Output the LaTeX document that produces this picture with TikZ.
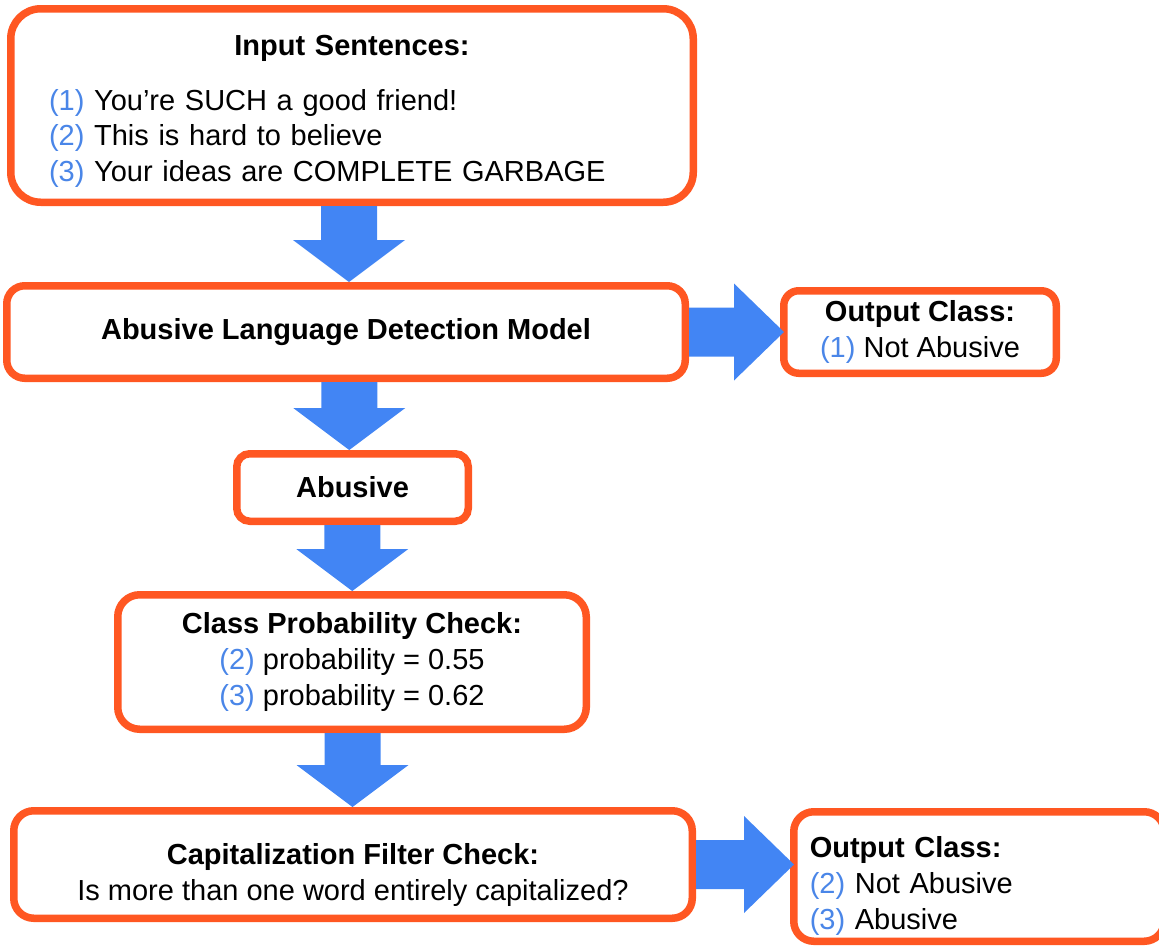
\documentclass[tikz,border=0pt]{standalone}
\usepackage{fontspec}
\setmainfont{Liberation Sans}
\usepackage{tikz}
\usetikzlibrary{calc}

\definecolor{boxorange}{HTML}{FF5722}
\definecolor{arrowblue}{HTML}{4285F4}
\definecolor{numblue}{HTML}{4A86E8}

\newcommand{\itemnum}[1]{\textcolor{numblue}{(#1)}}

% fat block arrows between two boxes
\newcommand{\downblock}[2]{%
    \coordinate (mid) at ($(#1.south)!0.5!(#2.north)$);
    \fill[arrowblue] ($(mid |- #1.south)+(-28,0)$) -- ($(mid |- #2.north)+(-28,-42)$)
        -- ($(mid |- #2.north)+(-56,-42)$) -- (mid |- #2.north)
        -- ($(mid |- #2.north)+(56,-42)$) -- ($(mid |- #2.north)+(28,-42)$)
        -- ($(mid |- #1.south)+(28,0)$) -- cycle;}
\newcommand{\rightblock}[2]{%
    \fill[arrowblue] ($(#1.east)+(0,-24.5)$) -- ($(#2.west |- #1.east)+(-46,-24.5)$)
        -- ($(#2.west |- #1.east)+(-46,-48.5)$) -- ($(#2.west |- #1.east)+(4,0)$)
        -- ($(#2.west |- #1.east)+(-46,48.5)$) -- ($(#2.west |- #1.east)+(-46,24.5)$)
        -- ($(#1.east)+(0,24.5)$) -- cycle;}

\begin{document}
\begin{tikzpicture}[x=1pt, y=-1pt,
    roundbox/.style={draw=boxorange, line width=7.5pt, rounded corners=#1, fill=white,
        inner sep=0pt, align=center, font=\fontsize{29}{36}\selectfont},
    roundbox/.default=18pt]
    \useasboundingbox (0,0) rectangle (1159,946);

    \node[roundbox=30pt, minimum width=682.5pt, minimum height=193.5pt, text width=606pt,
        align=left, font=\fontsize{29}{35.5}\selectfont] (input) at (352,105.5)
        {\makebox[\hsize]{\rule{0pt}{32pt}\bfseries Input Sentences:}\\[19pt]
         \itemnum{1} You're SUCH a good friend!\\
         \itemnum{2} This is hard to believe\\
         \itemnum{3} Your ideas are COMPLETE GARBAGE};
    \node[roundbox, minimum width=678.5pt, minimum height=92.5pt] (model) at (346,332)
        {\bfseries Abusive Language Detection Model};
    \node[roundbox=15pt, minimum width=272.5pt, minimum height=82.5pt] (outone) at (920,332)
        {\textbf{Output Class:}\\ \itemnum{1} Not Abusive};
    \node[roundbox=13pt, minimum width=231.5pt, minimum height=67.5pt] (abusive) at (352.5,487.5)
        {\bfseries Abusive};
    \node[roundbox=22pt, minimum width=468.5pt, minimum height=134.5pt] (probcheck) at (352,662)
        {\textbf{Class Probability Check:}\\ \itemnum{2} probability = 0.55\\ \itemnum{3} probability = 0.62};
    \node[roundbox=20pt, minimum width=678.5pt, minimum height=107.5pt] (capcheck) at (353,864.5)
        {\rule{0pt}{42pt}\textbf{Capitalization Filter Check:}\\ Is more than one word entirely capitalized?};
    \node[roundbox=20pt, minimum width=370.5pt, minimum height=129.5pt, text width=338.5pt,
        inner xsep=16pt, align=left] (outtwo) at (979,876.5)
        {\rule{0pt}{40pt}\textbf{Output Class:}\\ \itemnum{2} Not Abusive\\ \itemnum{3} Abusive};

    \downblock{input}{model}
    \downblock{model}{abusive}
    \downblock{abusive}{probcheck}
    \downblock{probcheck}{capcheck}
    \rightblock{model}{outone}
    \rightblock{capcheck}{outtwo}
\end{tikzpicture}
\end{document}
